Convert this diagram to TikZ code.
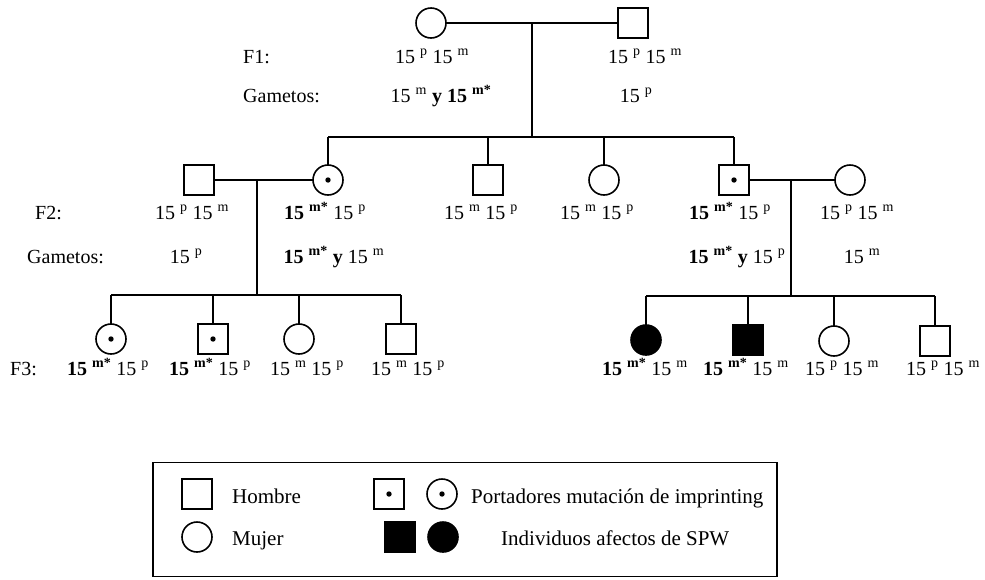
\documentclass[tikz,border=0pt]{standalone}
\usepackage{fontspec}
\setmainfont{Liberation Serif}
\newcommand\gs[1]{\textsuperscript{#1}}
\begin{document}
\begin{tikzpicture}[x=1pt,y=-1pt,
  ln/.style={line width=1.6pt},
  sym/.style={draw, line width=1.6pt, minimum size=30pt, inner sep=0pt, outer sep=0pt},
  male/.style={sym, rectangle},
  female/.style={sym, circle},
  carrier/.style={path picture={\fill (path picture bounding box.center) circle (2.7pt);}},
  affected/.style={fill=black},
  txt/.style={anchor=base, inner sep=0pt, font=\fontsize{20}{24}\selectfont},
  lbl/.style={txt, anchor=base west},
  leglbl/.style={lbl, font=\fontsize{21}{25}\selectfont}]
\useasboundingbox (0,0) rectangle (985,579);

% ---------- F1 ----------
\node[female] (I1) at (431,23) {};
\node[male]   (I2) at (633,23) {};
\draw[ln] (I1) -- (I2);
\coordinate (c1) at (532,23);
\coordinate (s1) at (532,137);
\draw[ln] (c1) -- (s1);

\node[lbl] (f1)  at (243,63) {F1:};
\node[lbl] (g1)  at (243,102) {Gametos:};
\node[txt] (tI1) at (432,63) {15 \gs{p} 15 \gs{m}};
\node[txt] (tI2) at (645,63) {15 \gs{p} 15 \gs{m}};
\node[txt] (gI1) at (441,102) {15 \gs{m} \textbf{y 15 \gs{m*}}};
\node[txt] (gI2) at (636,102) {15 \gs{p}};

% ---------- F2 ----------
\node[male]            (II1) at (199,180) {};
\node[female,carrier]  (II2) at (328,180) {};
\node[male]            (II3) at (488,180) {};
\node[female]          (II4) at (604,180) {};
\node[male,carrier]    (II5) at (734,180) {};
\node[female]          (II6) at (850,180) {};

\draw[ln] (II2 |- s1) -- (II5 |- s1);
\foreach \n in {II2,II3,II4,II5} \draw[ln] (\n.north) -- (\n |- s1);

\draw[ln] (II1) -- (II2);
\draw[ln] (II5) -- (II6);
\coordinate (c2) at (257,180);
\coordinate (s2) at (257,295);
\coordinate (c3) at (791,180);
\coordinate (s3) at (791,296);
\draw[ln] (c2) -- (s2);
\draw[ln] (c3) -- (s3);

\node[lbl] (f2)  at (35,219) {F2:};
\node[lbl] (g2)  at (27,263) {Gametos:};
\node[txt] (tII1) at (192,219) {15 \gs{p} 15 \gs{m}};
\node[txt] (tII2) at (325,219) {\textbf{15 \gs{m*}} 15 \gs{p}};
\node[txt] (tII3) at (481,219) {15 \gs{m} 15 \gs{p}};
\node[txt] (tII4) at (597,219) {15 \gs{m} 15 \gs{p}};
\node[txt] (tII5) at (730,219) {\textbf{15 \gs{m*}} 15 \gs{p}};
\node[txt] (tII6) at (857,219) {15 \gs{p} 15 \gs{m}};
\node[txt] (gII1) at (186,263) {15 \gs{p}};
\node[txt] (gII2) at (334,263) {\textbf{15 \gs{m*} y} 15 \gs{m}};
\node[txt] (gII5) at (737,263) {\textbf{15 \gs{m*} y} 15 \gs{p}};
\node[txt] (gII6) at (862,263) {15 \gs{m}};

% ---------- F3 ----------
\node[female,carrier]  (III1) at (111,339) {};
\node[male,carrier]    (III2) at (213,339) {};
\node[female]          (III3) at (299,339) {};
\node[male]            (III4) at (401,339) {};
\node[female,affected] (III5) at (646,340) {};
\node[male,affected]   (III6) at (748,340) {};
\node[female]          (III7) at (834,341) {};
\node[male]            (III8) at (935,341) {};

\draw[ln] (III1 |- s2) -- (III4 |- s2);
\foreach \n in {III1,III2,III3,III4} \draw[ln] (\n.north) -- (\n |- s2);
\draw[ln] (III5 |- s3) -- (III8 |- s3);
\foreach \n in {III5,III6,III7,III8} \draw[ln] (\n.north) -- (\n |- s3);

\node[lbl] (f3) at (10,375) {F3:};
\node[txt] (tIII1) at (108,375) {\textbf{15 \gs{m*}} 15 \gs{p}};
\node[txt] (tIII2) at (210,375) {\textbf{15 \gs{m*}} 15 \gs{p}};
\node[txt] (tIII3) at (307,375) {15 \gs{m} 15 \gs{p}};
\node[txt] (tIII4) at (408,375) {15 \gs{m} 15 \gs{p}};
\node[txt] (tIII5) at (645,375) {\textbf{15 \gs{m*}} 15 \gs{m}};
\node[txt] (tIII6) at (746,375) {\textbf{15 \gs{m*}} 15 \gs{m}};
\node[txt] (tIII7) at (842,375) {15 \gs{p} 15 \gs{m}};
\node[txt] (tIII8) at (943,375) {15 \gs{p} 15 \gs{m}};

% ---------- Legend ----------
\node[draw, line width=1.4pt, minimum width=624pt, minimum height=114pt, inner sep=0pt] (legend) at (465,519.5) {};
\node[male]             (Lm)  at (197,494) {};
\node[female]           (Lf)  at (197,537) {};
\node[male,carrier]     (Lmc) at (389,494) {};
\node[female,carrier]   (Lfc) at (442,494) {};
\node[male,affected]    (Lma) at (400,537) {};
\node[female,affected]  (Lfa) at (443,537) {};
\node[leglbl] (tLm)  at (232,503) {Hombre};
\node[leglbl] (tLf)  at (232,545) {Mujer};
\node[leglbl] (tLc)  at (471,503) {Portadores mutación de imprinting};
\node[leglbl] (tLa)  at (501,545) {Individuos afectos de SPW};
\end{tikzpicture}
\end{document}
